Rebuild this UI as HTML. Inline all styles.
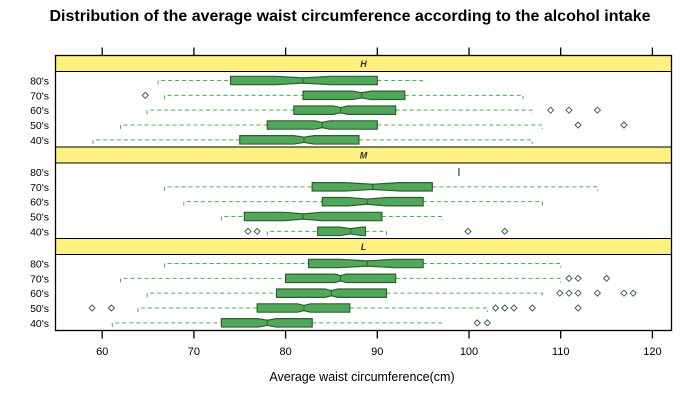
<!DOCTYPE html>
<html><head><meta charset="utf-8"><style>
body{margin:0;background:#fff;}
svg{display:block;font-family:"Liberation Sans",Arial,sans-serif;}
</style></head><body>
<svg id="chart" width="700" height="400" viewBox="0 0 700 400">
<text x="350" y="21" text-anchor="middle" font-size="16" font-weight="bold">Distribution of the average waist circumference according to the alcohol intake</text>
<text x="362" y="381" text-anchor="middle" font-size="12.5">Average waist circumference(cm)</text>
<g id="g"></g>
</svg>
<script>
const panels = ["H","M","L"];
const groups = ["80's","70's","60's","50's","40's"];
const whiskLo = [[66.1,66.8,64.9,62.0,59.0],[98.9,66.8,68.9,73.0,78.0],[66.8,62.0,64.9,63.9,61.1]];
const q1 =      [[74.0,81.9,80.9,78.0,75.0],[98.9,82.9,84.0,75.5,83.5],[82.5,80.0,79.0,76.9,73.0]];
const med =     [[81.9,88.3,86.0,84.0,82.0],[98.9,89.5,88.9,81.9,87.1],[88.9,86.0,85.0,82.0,78.0]];
const q3 =      [[90.0,93.0,92.0,90.0,88.0],[98.9,96.0,95.0,90.5,88.7],[95.0,92.0,91.0,87.0,82.9]];
const whiskHi = [[94.9,105.9,106.9,108.0,106.9],[98.9,114.0,108.0,97.0,91.0],[110.0,110.0,108.0,102.0,97.0]];
const notch =   [[3,1,0.8,0.8,1.1],[0,3,2.1,2,1.2],[3,0.6,0.7,0.7,1]];
const outliers = [
 [[],[64.7],[108.9,110.9,114.0],[111.9,116.9],[]],
 [[],[],[],[],[75.9,76.9,99.9,103.9]],
 [[],[110.9,111.9,115.0],[109.9,110.9,111.9,114.0,116.9,117.9],[58.9,61.0,102.9,103.9,104.9,106.9,111.9],[100.9,102.0]]
];
const xTicks = [60,70,80,90,100,110,120];

const NS="http://www.w3.org/2000/svg";
const g=document.getElementById('g');
const L=55.5,R=671.5,T=55.5,B=330.5;
const x=v=>377.3+(v-90)*9.17;
const stripTop=[55.5,147,238.5], stripH=16;
const rowY=(p,i)=>stripTop[p]+stripH+9+i*(B-T-3*stripH)/3/5.1;
function el(t,a,txt){const e=document.createElementNS(NS,t);for(const k in a)e.setAttribute(k,a[k]);if(txt!==undefined)e.textContent=txt;g.appendChild(e);return e;}

for(let p=0;p<3;p++){
  const s=el('rect',{x:L,y:stripTop[p],width:R-L,height:stripH,fill:'#fff07f',stroke:'#000','stroke-width':1});
  
  
  const st=el('text',{x:(L+R)/2,y:stripTop[p]+11.5,'text-anchor':'middle','font-size':9,'font-weight':'bold','font-style':'italic',fill:'#333'},panels[p]);
  
  
  for(let i=0;i<5;i++){
    const y=rowY(p,i);
    const lab=el('text',{x:49,y:y+4,'text-anchor':'end','font-size':10.5},groups[i]);
    
    
    const a=whiskLo[p][i],b=q1[p][i],m=med[p][i],c=q3[p][i],d=whiskHi[p][i],n=notch[p][i];
    if(b===c){
      const ln=el('line',{x1:x(m),x2:x(m),y1:y-4,y2:y+4,stroke:'#2d5e2f','stroke-width':1.3});
      
      
      continue;
    }
    const w1=el('path',{d:`M${x(a)},${y+4}V${y}H${x(b)}M${x(c)},${y}H${x(d)}V${y+4}`,fill:'none',stroke:'#4caf50','stroke-dasharray':'4,3','stroke-width':1});
    
    
    const h=4.2,hn=2.6;
    const lo=Math.max(b,m-n),hi=Math.min(c,m+n);
    const pts=[[x(b),y-h],[x(lo),y-h],[x(m),y-hn],[x(hi),y-h],[x(c),y-h],[x(c),y+h],[x(hi),y+h],[x(m),y+hn],[x(lo),y+h],[x(b),y+h]];
    const bx=el('polygon',{points:pts.map(q=>q.join(',')).join(' '),fill:'#52a85a',stroke:'#2d5e2f','stroke-width':1.2});
    
    
    const md=el('line',{x1:x(m),x2:x(m),y1:y-hn,y2:y+hn,stroke:'#2d5e2f','stroke-width':1});
    
    
    for(const o of outliers[p][i]){
      const cx=x(o);
      const c2=el('polygon',{points:`${cx-3},${y} ${cx},${y-3} ${cx+3},${y} ${cx},${y+3}`,fill:'none',stroke:'#3d6b42','stroke-width':1});
      
      
    }
  }
}
const fr=el('rect',{x:L,y:T,width:R-L,height:B-T,fill:'none',stroke:'#000','stroke-width':1.3});


for(const t of xTicks){
  const tk=el('path',{d:`M${x(t)},${B}V${B+8}M${x(t)},${T}V${T-8}`,stroke:'#000','stroke-width':1.3});
  
  
  const tl=el('text',{x:x(t),y:355,'text-anchor':'middle','font-size':11},String(t));
  
  
}
</script>
</body></html>
